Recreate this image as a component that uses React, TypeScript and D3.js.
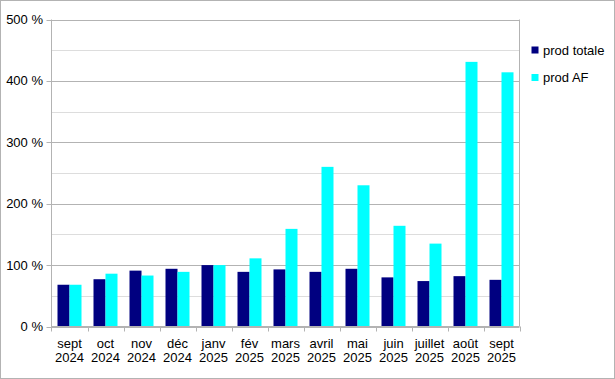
import React from "react";
import * as d3 from "d3";

const months = ["sept", "oct", "nov", "déc", "janv", "fév", "mars", "avril", "mai", "juin", "juillet", "août", "sept"];
const years = ["2024", "2024", "2024", "2024", "2025", "2025", "2025", "2025", "2025", "2025", "2025", "2025", "2025"];
const prodTotale = [68, 77, 91, 94, 100, 89, 93, 89, 94, 80, 74, 82, 76];
const prodAF = [68, 86, 83, 89, 100, 111, 159, 260, 230, 164, 135, 431, 414];
const seriesNames = ["prod totale", "prod AF"];
const seriesColors = ["#000080", "#00ffff"];
const yTicks = [0, 100, 200, 300, 400, 500];
const yMinor = [50, 150, 250, 350, 450];

export default function App() {
  const W = 615, H = 379;
  const left = 51.5, right = 519.5, top = 19.5, bottom = 326.5;
  const idx = months.map((_, i) => i);
  const x = d3.scaleBand<number>().domain(idx).range([left, right]).paddingInner(0).paddingOuter(0);
  const y = d3.scaleLinear().domain([0, 500]).range([bottom, top]);
  const bw = x.bandwidth();
  const barW = bw / 3;
  const font = "'Liberation Sans', Arial, sans-serif";
  const series = [prodTotale, prodAF];
  return (
    <svg width={W} height={H} style={{ position: "absolute", left: 0, top: 0 }} fontFamily={font}>
      <rect x={0.5} y={0.5} width={W - 1} height={H - 1} fill="#fff" stroke="#b3b3b3" />
      {yMinor.map((t) => (
        <line key={"m" + t} x1={left} x2={right} y1={Math.round(y(t)) + 0.5} y2={Math.round(y(t)) + 0.5} stroke="#dddddd" />
      ))}
      {yTicks.map((t) => (
        <g key={t}>
          <line x1={left - 5} x2={right} y1={Math.round(y(t)) + 0.5} y2={Math.round(y(t)) + 0.5} stroke="#b3b3b3" />
          <text x={43} y={y(t)} dy="0.35em" textAnchor="end" fontSize={13} fill="#000">{t} %</text>
        </g>
      ))}
      <line x1={right} x2={right} y1={top} y2={bottom} stroke="#b3b3b3" />
      {series.map((s, si) =>
        s.map((v, i) => (
          <rect key={si + "-" + i} x={(x(i) as number) + barW / 2 + si * barW} y={y(v)} width={barW} height={y(0) - y(v)} fill={seriesColors[si]} />
        ))
      )}
      <line x1={left} x2={left} y1={top} y2={bottom + 5} stroke="#b3b3b3" />
      {idx.map((i) => (
        <line key={"t" + i} x1={Math.round((x(i) as number) + bw) + 0.5} x2={Math.round((x(i) as number) + bw) + 0.5} y1={bottom} y2={bottom + 5} stroke="#b3b3b3" />
      ))}
      <line x1={left} x2={right} y1={bottom} y2={bottom} stroke="#b3b3b3" />
      {idx.map((i) => (
        <text key={"l" + i} x={(x(i) as number) + bw / 2} textAnchor="middle" fontSize={13} fill="#000">
          <tspan x={(x(i) as number) + bw / 2} y={348}>{months[i]}</tspan>
          <tspan x={(x(i) as number) + bw / 2} y={362}>{years[i]}</tspan>
        </text>
      ))}
      {seriesNames.map((n, si) => (
        <g key={n}>
          <rect x={531.5} y={46.5 + si * 27.5} width={7} height={7} fill={seriesColors[si]} />
          <text x={543} y={50 + si * 27.5} dy="0.35em" fontSize={13} fill="#000">{n}</text>
        </g>
      ))}
    </svg>
  );
}
